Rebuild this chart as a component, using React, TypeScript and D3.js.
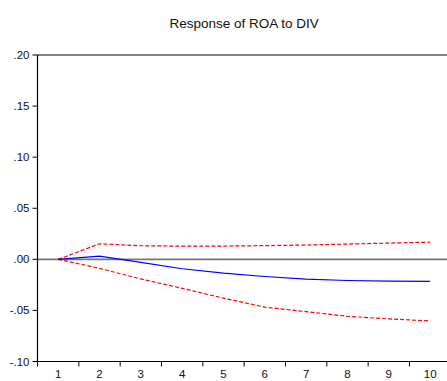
import React from "react";
import * as d3 from "d3";

const periods = [1, 2, 3, 4, 5, 6, 7, 8, 9, 10];
const response = [0.0, 0.0032, -0.003, -0.0092, -0.0135, -0.0168, -0.0193, -0.0207, -0.0213, -0.0216];
const upper = [0.0, 0.0152, 0.0133, 0.0129, 0.013, 0.0134, 0.014, 0.0149, 0.0159, 0.0168];
const lower = [0.0, -0.0088, -0.0192, -0.0284, -0.038, -0.0468, -0.0512, -0.0558, -0.0583, -0.0603];
const yTicks = [-0.1, -0.05, 0.0, 0.05, 0.1, 0.15, 0.2];
const title = "Response of ROA to DIV";

const W = 447;
const H = 381;
const left = 37.5;
const right = 450.8;
const top = 55;
const bottom = 361.5;

export default function App() {
  const x = d3.scaleBand<number>().domain(periods).range([left, right]);
  const y = d3.scaleLinear().domain([-0.1, 0.2]).range([bottom, top]);
  const cx = (p: number) => (x(p) as number) + x.bandwidth() / 2;
  const line = d3
    .line<number>()
    .x((_, i) => cx(periods[i]))
    .y((v) => y(v));
  const fmt = (v: number) => {
    const s = Math.abs(v).toFixed(2).replace(/^0/, "");
    return (v < 0 ? "-" : "") + s;
  };
  const font = "'Liberation Sans', Arial, sans-serif";
  const tickEdges = periods.map((p) => x(p) as number);
  return (
    <svg
      width={W}
      height={H}
      style={{ position: "absolute", left: 0, top: 0, background: "#fff" }}
      fontFamily={font}
    >
      <rect x={0} y={0} width={W} height={H} fill="#fff" />
      <text x={(left + right) / 2} y={28} fontSize={13.5} textAnchor="middle" fill="#111">
        {title}
      </text>
      {/* zero line */}
      <line x1={left} x2={right} y1={y(0)} y2={y(0)} stroke="#777" strokeWidth={1.6} />
      {/* frame */}
      <line x1={left} x2={right} y1={top} y2={top} stroke="#000" strokeWidth={1.2} />
      <line x1={left} x2={left} y1={top} y2={bottom} stroke="#000" strokeWidth={1.2} />
      <line x1={left} x2={right} y1={bottom} y2={bottom} stroke="#000" strokeWidth={1.2} />
      {yTicks.map((t) => (
        <g key={t}>
          <line x1={left - 5} x2={left} y1={y(t)} y2={y(t)} stroke="#000" strokeWidth={1} />
          <text x={left - 8} y={y(t) + 4} fontSize={11.5} textAnchor="end" fill="#111">
            {fmt(t)}
          </text>
        </g>
      ))}
      {tickEdges.map((e, i) => (
        <line key={i} x1={e} x2={e} y1={bottom} y2={bottom + 5} stroke="#000" strokeWidth={1} />
      ))}
      {periods.map((p) => (
        <text key={p} x={cx(p)} y={378} fontSize={11.5} textAnchor="middle" fill="#111">
          {p}
        </text>
      ))}
      <path d={line(upper) || ""} fill="none" stroke="#ff0000" strokeWidth={1.2} strokeDasharray="4,2" />
      <path d={line(lower) || ""} fill="none" stroke="#ff0000" strokeWidth={1.2} strokeDasharray="4,2" />
      <path d={line(response) || ""} fill="none" stroke="#0000ff" strokeWidth={1.2} />
    </svg>
  );
}
